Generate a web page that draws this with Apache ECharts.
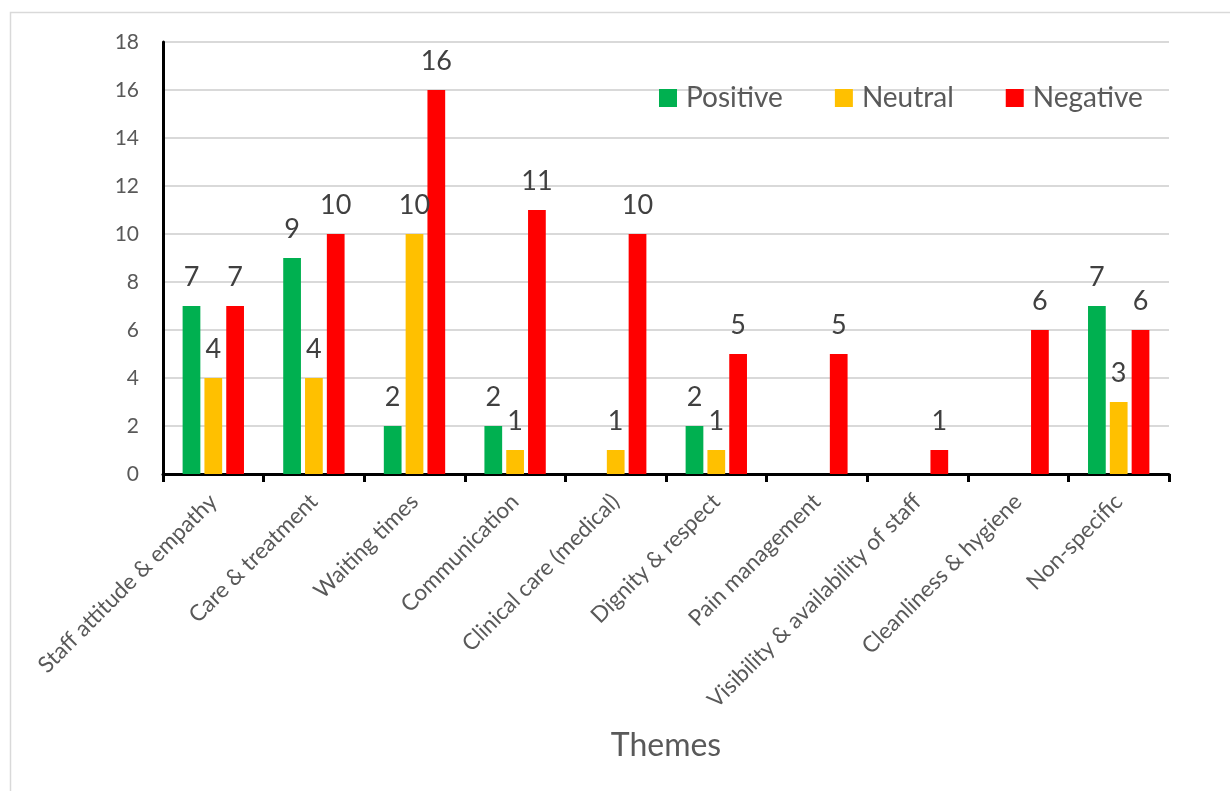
<!DOCTYPE html>
<html>
<head>
<meta charset="utf-8">
<script src="https://cdn.jsdelivr.net/npm/echarts@6/dist/echarts.min.js"></script>
<style>
html,body{margin:0;padding:0;background:#fff;}
#chart{width:1230px;height:791px;}
</style>
</head>
<body>
<div id="chart"></div>
<script>
const categories = ["Staff attitude & empathy","Care & treatment","Waiting times","Communication","Clinical care (medical)","Dignity & respect","Pain management","Visibility & availability of staff","Cleanliness & hygiene","Non-specific"];
const positive = [7,9,2,2,0,2,0,0,0,7];
const neutral  = [4,4,10,1,1,1,0,0,0,3];
const negative = [7,10,16,11,10,5,5,1,6,6];
const seriesNames = ["Positive","Neutral","Negative"];
const colors = ["#00B050","#FFC000","#FF0000"];
const yTicks = {min:0, max:18, interval:2};
const axisTitle = "Themes";

const FONT = "Lato, 'Open Sans', sans-serif";
const chart = echarts.init(document.getElementById('chart'), null, {renderer:'canvas'});

const labelCfg = {
  show:true, position:'top', distance:15,
  fontSize:27, color:'#404040', fontFamily:FONT,
  formatter: p => p.value === 0 ? '' : String(p.value)
};

function mk(name, data, color){
  return {
    name, type:'bar', data,
    barGap:'23%', barCategoryGap:'39%',
    itemStyle:{color},
    label:labelCfg
  };
}

chart.setOption({
  animation:false,
  textStyle:{fontFamily:FONT},
  graphic:[{
    type:'rect', z:-1, silent:true,
    shape:{x:10.5, y:12.5, width:1240, height:800},
    style:{fill:'none', stroke:'#D9D9D9', lineWidth:1.5}
  }],
  legend:{
    data:seriesNames,
    left:654, top:79,
    itemWidth:18, itemHeight:18, itemGap:52,
    icon:'rect',
    textStyle:{fontSize:28, color:'#595959', fontFamily:FONT, padding:[0,0,0,4]}
  },
  grid:{left:163, right:61, top:42, bottom:317, containLabel:false},
  xAxis:{
    type:'category', data:categories,
    name:axisTitle, nameLocation:'middle', nameGap:256,
    nameTextStyle:{fontSize:32, color:'#595959', fontFamily:FONT},
    axisLine:{show:true, lineStyle:{color:'#000', width:3}},
    axisTick:{show:true, length:8, lineStyle:{color:'#000', width:3}},
    axisLabel:{rotate:45, fontSize:22.5, color:'#595959', fontFamily:FONT, margin:24, interval:0},
    splitLine:{show:false}
  },
  yAxis:{
    type:'value', min:yTicks.min, max:yTicks.max, interval:yTicks.interval,
    axisLine:{show:true, lineStyle:{color:'#000', width:3}},
    axisTick:{show:false},
    axisLabel:{fontSize:21, color:'#595959', fontFamily:FONT, margin:24},
    splitLine:{show:true, lineStyle:{color:'#D9D9D9', width:2}}
  },
  series:[mk(seriesNames[0], positive, colors[0]), mk(seriesNames[1], neutral, colors[1]), mk(seriesNames[2], negative, colors[2])]
});
</script>
</body>
</html>
